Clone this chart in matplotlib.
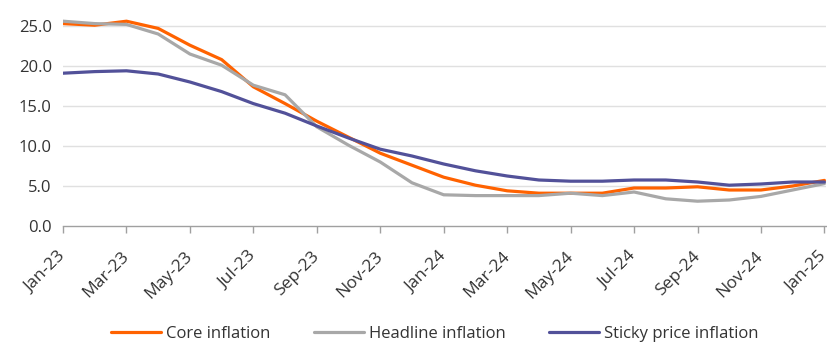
import numpy as np
import matplotlib.pyplot as plt

# Monthly series, Jan-23 .. Jan-25 (% y/y)
months = ["Jan-23", "Feb-23", "Mar-23", "Apr-23", "May-23", "Jun-23", "Jul-23",
          "Aug-23", "Sep-23", "Oct-23", "Nov-23", "Dec-23", "Jan-24", "Feb-24",
          "Mar-24", "Apr-24", "May-24", "Jun-24", "Jul-24", "Aug-24", "Sep-24",
          "Oct-24", "Nov-24", "Dec-24", "Jan-25"]

core = [25.3, 25.1, 25.6, 24.7, 22.6, 20.8, 17.4, 15.3, 13.1, 11.1, 9.1, 7.6,
        6.1, 5.1, 4.4, 4.1, 4.1, 4.1, 4.75, 4.75, 4.9, 4.5, 4.5, 5.0, 5.7]
headline = [25.6, 25.3, 25.2, 24.0, 21.5, 20.1, 17.6, 16.4, 12.4, 10.1, 8.0, 5.4,
            3.9, 3.8, 3.8, 3.8, 4.1, 3.8, 4.25, 3.4, 3.1, 3.25, 3.7, 4.5, 5.3]
sticky = [19.1, 19.3, 19.4, 19.0, 18.0, 16.8, 15.3, 14.1, 12.5, 11.0, 9.6, 8.75,
          7.75, 6.9, 6.25, 5.75, 5.6, 5.6, 5.75, 5.75, 5.5, 5.1, 5.25, 5.5, 5.5]

series = [("Core inflation", core, "#FF6200"),
          ("Headline inflation", headline, "#A8A8A8"),
          ("Sticky price inflation", sticky, "#525199")]

plt.rcParams['font.family'] = ['Open Sans', 'DejaVu Sans']

fig = plt.figure(figsize=(8.27, 3.45), dpi=100)
ax = fig.add_axes([63 / 827, 119 / 345, 763 / 827, 212 / 345])

x = np.arange(len(months))
for name, vals, col in series:
    ax.plot(x, vals, color=col, lw=2.3, label=name, solid_capstyle='round',
            solid_joinstyle='round', zorder=3)

ax.set_xlim(0, len(months) - 1 + 0.05)
ax.set_ylim(0, 26.5)
ax.set_yticks(np.arange(0, 26, 5))
ax.set_yticklabels([f"{v:.1f}" for v in np.arange(0, 26, 5)])
ax.set_xticks(x[::2])
ax.set_xticklabels(months[::2], rotation=45, ha='right', va='center',
                   rotation_mode='anchor')

for v in range(5, 26, 5):
    ax.axhline(v, color='#E0E0E0', lw=1.0, zorder=1)

for s in ['top', 'right', 'left']:
    ax.spines[s].set_visible(False)
ax.spines['bottom'].set_color('#A0A0A0')
ax.spines['bottom'].set_linewidth(1.0)
ax.tick_params(axis='y', length=0, labelsize=12, colors='#333333', pad=8)
ax.tick_params(axis='x', length=5, width=1.0, color='#A0A0A0', labelsize=12.5,
               labelcolor='#333333', pad=15)

fig.legend(loc='center', bbox_to_anchor=(435 / 827, 11 / 345), ncol=3, frameon=False,
           fontsize=12, handlelength=3.0, columnspacing=2.6, handletextpad=0.3,
           labelcolor='#333333')

fig.savefig("out.png", dpi=100)
